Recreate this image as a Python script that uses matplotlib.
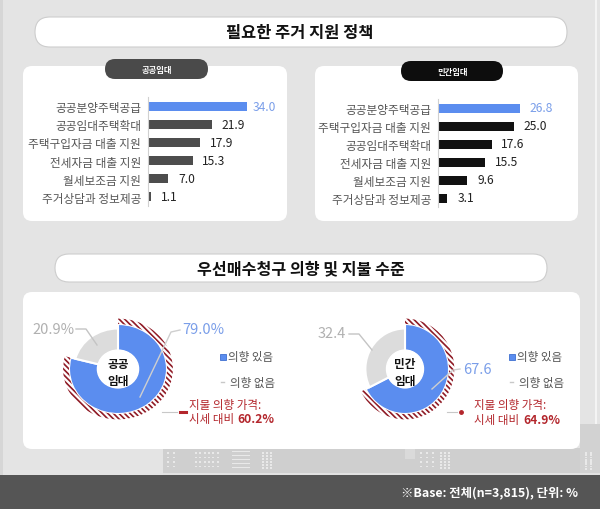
import matplotlib
matplotlib.use('Agg')
import matplotlib.pyplot as plt
from matplotlib.patches import FancyBboxPatch, Rectangle, Circle
import numpy as np

plt.rcParams['font.family'] = ['Noto Sans CJK KR', 'DejaVu Sans']
plt.rcParams['hatch.linewidth'] = 1.2

# ---------------- data ----------------
title1 = "필요한 주거 지원 정책"
title2 = "우선매수청구 의향 및 지불 수준"
pub_label = "공공임대"
pri_label = "민간임대"
pub_cats = ["공공분양주택공급", "공공임대주택확대", "주택구입자금 대출 지원",
            "전세자금 대출 지원", "월세보조금 지원", "주거상담과 정보제공"]
pub_vals = [34.0, 21.9, 17.9, 15.3, 7.0, 1.1]
pri_cats = ["공공분양주택공급", "주택구입자금 대출 지원", "공공임대주택확대",
            "전세자금 대출 지원", "월세보조금 지원", "주거상담과 정보제공"]
pri_vals = [26.8, 25.0, 17.6, 15.5, 9.6, 3.1]
intent_labels = ["의향 있음", "의향 없음"]
pub_intent = [79.0, 20.9]
pri_intent = [67.6, 32.4]
pub_intent_text = ["79.0%", "20.9%"]
pri_intent_text = ["67.6", "32.4"]
pub_center = "공공\n임대"
pri_center = "민간\n임대"
price_title = "지불 의향 가격:"
pub_price = "60.2%"
pri_price = "64.9%"
footer = "※Base: 전체(n=3,815), 단위: %"

# ---------------- styles ----------------
W, H = 600, 510
BG = '#e4e4e4'
BLUE = '#5b8def'
BLUE_TXT = '#7a9ee9'
LGRAY = '#dcdcdc'
RED = '#b3262c'
HATCH = '#8f1a25'

fig = plt.figure(figsize=(W / 100, H / 100), dpi=100)
fig.patch.set_facecolor(BG)


def px_axes(x0, y0, x1, y1, **kw):
    return fig.add_axes([x0 / W, 1 - y1 / H, (x1 - x0) / W, (y1 - y0) / H], **kw)


bg = px_axes(0, 0, W, H)
bg.set_xlim(0, W)
bg.set_ylim(H, 0)
bg.axis('off')


def rbox(ax, x, y, w, h, r, fc, ec='none', lw=0, z=1):
    p = FancyBboxPatch((x, y), w, h, boxstyle=f"round,pad=0,rounding_size={r}",
                       fc=fc, ec=ec, lw=lw, zorder=z, mutation_aspect=1)
    ax.add_patch(p)


# side strips
bg.add_patch(Rectangle((0, 0), 3, H, fc='#d6d6d6', ec='none', zorder=0))
bg.add_patch(Rectangle((595, 0), 2, 470, fc='#f4f4f4', ec='none', zorder=0))

# skyline band
bg.add_patch(Rectangle((163, 449), 437, 26, fc='#cfcfcf', ec='none', zorder=0.5))
bg.add_patch(Rectangle((580, 425), 20, 50, fc='#d2d2d2', ec='none', zorder=0.5))
bg.add_patch(Rectangle((405, 450), 10, 10, fc='#dadada', ec='none', zorder=0.6))
win_groups = [(167, 2, 4, 6), (195, 6, 4, 4.3), (262, 3, 6, 4), (420, 3, 4, 6),
              (440, 3, 6, 4), (585, 2, 8, 5)]
for gx, nc, nr, sp in win_groups:
    for ci in range(nc):
        for ri in range(nr):
            bg.add_patch(Rectangle((gx + ci * sp, 453 + ri * (18 / nr)), 2, 1.8,
                                   fc='#e9e9e9', ec='none', zorder=0.7))
for li in range(5):
    bg.add_patch(Rectangle((232, 452 + li * 4), 18, 1.2, fc='#e9e9e9', ec='none', zorder=0.7))
bg.add_patch(Rectangle((163, 474), 437, 2, fc='#e2e2e2', ec='none', zorder=0.8))

# footer
bg.add_patch(Rectangle((0, 476), W, 34, fc='#555555', ec='none', zorder=1))

# title pills
rbox(bg, 35, 18, 532, 30, 15, 'white', '#cdcdcd', 0.8)
rbox(bg, 55, 255, 492, 28, 14, 'white', '#cdcdcd', 0.8)

# panels
rbox(bg, 23, 67, 264, 155, 9, 'white')
rbox(bg, 315, 67, 263, 155, 9, 'white')
rbox(bg, 23, 293, 557, 157, 9, 'white')

# panel pills
rbox(bg, 105, 60, 103, 20, 10, '#4a4a4a', z=2)
rbox(bg, 401, 62, 102, 20, 10, '#0d0d0d', z=2)


# ---------------- bar charts ----------------
def bar_chart(x0, ytop, ybot, scale, cats, vals, other_color, first_off):
    ax = px_axes(x0, ytop, x0 + 40 * scale, ybot)
    ax.patch.set_alpha(0)
    y = np.arange(len(cats))
    colors = [BLUE] + [other_color] * (len(vals) - 1)
    ax.barh(y, vals, height=0.5, color=colors)
    ax.set_ylim(len(cats) - 0.5, -0.5)
    ax.set_xlim(0, 40)
    for s in ['top', 'right', 'bottom']:
        ax.spines[s].set_visible(False)
    ax.spines['left'].set_color('#d0d0d0')
    ax.spines['left'].set_linewidth(0.8)
    ax.set_xticks([])
    ax.set_yticks(y)
    ax.set_yticklabels(cats, fontsize=8.4, color='#555555')
    ax.tick_params(axis='y', length=0, pad=5)
    for i, v in enumerate(vals):
        ax.annotate(f"{v:.1f}", (v, i), xytext=(first_off if i == 0 else 7, 0),
                    textcoords='offset points', va='center', ha='left',
                    fontsize=8.7, color=BLUE_TXT if i == 0 else '#222222')
    return ax


bar_chart(148, 98, 207, 2.92, pub_cats, pub_vals, '#4d4d4d', 3.5)
bar_chart(438, 100, 208, 3.05, pri_cats, pri_vals, '#111111', 7)


# ---------------- donuts ----------------
def donut(cx, cy, rx, ry, vals, center_text):
    w, h = 140, 130
    ax = px_axes(cx - w / 2, cy - h / 2, cx + w / 2, cy + h / 2)
    ax.patch.set_alpha(0)
    wedges, _ = ax.pie(vals, startangle=90, counterclock=False, colors=[BLUE, LGRAY],
                       radius=1, wedgeprops=dict(width=0.6, edgecolor='white', linewidth=1.5))
    wedges[1].set_radius(0.9)
    wedges[1].set_width(0.5)
    ring, _ = ax.pie(vals, startangle=90, counterclock=False, colors=['white', 'none'],
                     radius=1.12, wedgeprops=dict(width=0.12, edgecolor=HATCH, linewidth=0,
                                                  hatch='\\\\\\\\\\\\'))
    ring[1].set_visible(False)
    ax.add_patch(Circle((0, 0), 0.42, fc='white', ec='white', zorder=5))
    ax.text(0, -0.06, center_text, ha='center', va='center', fontsize=8.4,
            fontweight='bold', linespacing=1.4, zorder=6, color='#111111')
    ax.set_aspect('auto')
    ax.set_xlim(-w / 2 / rx, w / 2 / rx)
    ax.set_ylim(-h / 2 / ry, h / 2 / ry)
    return ax


donut(118, 370, 49, 45, pub_intent, pub_center)
donut(405, 370, 44, 45, pri_intent, pri_center)

# ---------------- overlay texts ----------------
ov = px_axes(0, 0, W, H, zorder=20)
ov.patch.set_alpha(0)
ov.set_xlim(0, W)
ov.set_ylim(H, 0)
ov.axis('off')

ov.text(300, 33, title1, ha='center', va='center', fontsize=11.8, fontweight='bold', color='#111111')
ov.text(301, 269, title2, ha='center', va='center', fontsize=11.6, fontweight='bold', color='#111111')
ov.text(156.5, 70, pub_label, ha='center', va='center', fontsize=6, fontweight='bold', color='white')
ov.text(452, 72, pri_label, ha='center', va='center', fontsize=6, fontweight='bold', color='white')

LINE = '#c4c4c4'
# donut 1 labels
ov.text(32, 330, pub_intent_text[1], ha='left', va='center', fontsize=10.5, color='#b0b0b0')
ov.plot([76, 86, 97], [330, 330, 346], color=LINE, lw=1)
ov.text(182, 330, pub_intent_text[0], ha='left', va='center', fontsize=10.5, color=BLUE_TXT)
ov.plot([180, 171, 140], [331, 333, 398], color='#cfcfcf', lw=1)
# donut 2 labels
ov.text(318, 334, pri_intent_text[1], ha='left', va='center', fontsize=10.5, color='#b0b0b0')
ov.plot([349, 359, 372], [335, 335, 351], color=LINE, lw=1)
ov.text(463, 370, pri_intent_text[0], ha='left', va='center', fontsize=10.5, color=BLUE_TXT)
ov.plot([460, 453, 432], [370, 371, 390], color='#cfcfcf', lw=1)

# legends
for lx, ly in [(223, 358), (512, 358)]:
    ov.add_patch(Rectangle((lx - 3, ly - 3), 6, 6, fc=BLUE, ec='#3f6fd0', lw=0.6))
    ov.text(lx + 5, ly, intent_labels[0], ha='left', va='center', fontsize=8.3, color='#555555')
    ov.plot([lx - 2, lx + 1], [ly + 25, ly + 25], color='#c8c8c8', lw=1)
    ov.text(lx + 7, ly + 25, intent_labels[1], ha='left', va='center', fontsize=8.3, color='#555555')

# price annotations
ov.plot([162, 177], [413, 413], color='#c8c8c8', lw=0.8)
ov.plot([180, 186], [413, 413], color=RED, lw=2.2)
ov.text(189, 406, price_title, ha='left', va='center', fontsize=8.3, color=RED, fontweight='medium')
ov.text(189, 420, "시세 대비", ha='left', va='center', fontsize=8.3, color=RED, fontweight='medium')
ov.text(237, 420, pub_price, ha='left', va='center', fontsize=8.7, color=RED, fontweight='bold')

ov.plot([447, 457], [413, 413], color='#c8c8c8', lw=0.8)
ov.plot([461], [413], marker='o', ms=2.5, color=RED)
ov.text(474, 406, price_title, ha='left', va='center', fontsize=8.3, color=RED, fontweight='medium')
ov.text(474, 421, "시세 대비", ha='left', va='center', fontsize=8.3, color=RED, fontweight='medium')
ov.text(523, 421, pri_price, ha='left', va='center', fontsize=8.7, color=RED, fontweight='bold')

# footer
ov.text(578, 493, footer, ha='right', va='center', fontsize=8.9, fontweight='bold', color='white')

fig.savefig('out.png', dpi=100, facecolor=BG)
